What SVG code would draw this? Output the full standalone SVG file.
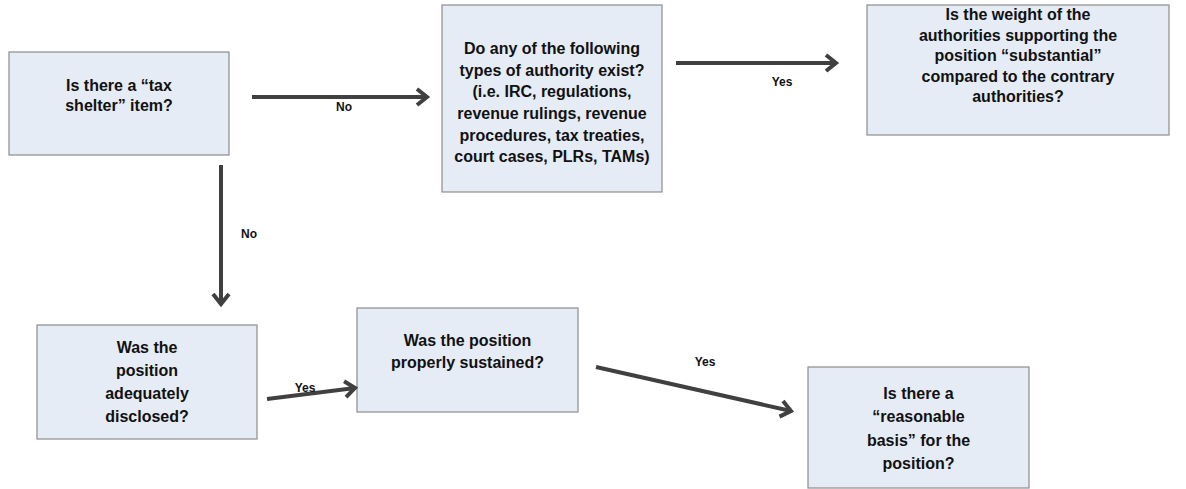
<svg xmlns="http://www.w3.org/2000/svg" width="1186" height="489" viewBox="0 0 1186 489">
  <style>
    .box { fill: #E6ECF6; stroke: #8C8C8C; stroke-width: 1.2; }
    .t { font-family: "Liberation Sans", Arial, sans-serif; font-weight: bold; font-size: 16px; fill: #111; text-anchor: middle; }
    .lbl { font-family: "Liberation Sans", Arial, sans-serif; font-weight: bold; font-size: 12px; fill: #111; text-anchor: middle; }
    .conn { stroke: #404040; stroke-width: 4; fill: none; marker-end: url(#arrow); }
  </style>
  <defs>
    <marker id="arrow" markerUnits="userSpaceOnUse" viewBox="-16 -12 20 24" refX="0" refY="0" markerWidth="20" markerHeight="24" orient="auto">
      <path d="M-10,-8 L0,0 L-10,8" fill="none" stroke="#404040" stroke-width="4" stroke-linejoin="miter"/>
    </marker>
  </defs>
  <rect width="1186" height="489" fill="#FFFFFF"/>

  <g id="n1">
    <rect class="box" x="9" y="52" width="220" height="103"/>
    <text class="t" x="119" y="91">Is there a “tax</text>
    <text class="t" x="119" y="111">shelter” item?</text>
  </g>

  <g id="n2">
    <rect class="box" x="442" y="5" width="220" height="187"/>
    <text class="t" x="552" y="54">Do any of the following</text>
    <text class="t" x="552" y="76">types of authority exist?</text>
    <text class="t" x="552" y="97">(i.e. IRC, regulations,</text>
    <text class="t" x="552" y="119">revenue rulings, revenue</text>
    <text class="t" x="552" y="141">procedures, tax treaties,</text>
    <text class="t" x="552" y="162">court cases, PLRs, TAMs)</text>
  </g>

  <g id="n3">
    <rect class="box" x="867" y="5" width="302" height="130"/>
    <text class="t" x="1018" y="20">Is the weight of the</text>
    <text class="t" x="1018" y="40.5">authorities supporting the</text>
    <text class="t" x="1018" y="61">position “substantial”</text>
    <text class="t" x="1018" y="81.5">compared to the contrary</text>
    <text class="t" x="1018" y="102">authorities?</text>
  </g>

  <g id="n4">
    <rect class="box" x="37" y="325" width="220" height="114"/>
    <text class="t" x="147" y="353">Was the</text>
    <text class="t" x="147" y="376">position</text>
    <text class="t" x="147" y="399">adequately</text>
    <text class="t" x="147" y="422">disclosed?</text>
  </g>

  <g id="n5">
    <rect class="box" x="357" y="308" width="221" height="104"/>
    <text class="t" x="467.5" y="346">Was the position</text>
    <text class="t" x="467.5" y="368">properly sustained?</text>
  </g>

  <g id="n6">
    <rect class="box" x="808" y="367" width="221" height="121"/>
    <text class="t" x="918.5" y="399">Is there a</text>
    <text class="t" x="918.5" y="422">“reasonable</text>
    <text class="t" x="918.5" y="446">basis” for the</text>
    <text class="t" x="918.5" y="469">position?</text>
  </g>

  <g id="connectors">
    <line class="conn" x1="252" y1="97" x2="427" y2="97"/>
    <text class="lbl" x="344" y="111">No</text>
    <line class="conn" x1="221" y1="165" x2="221" y2="304"/>
    <text class="lbl" x="249" y="238">No</text>
    <line class="conn" x1="676" y1="63" x2="836" y2="63"/>
    <text class="lbl" x="782" y="86">Yes</text>
    <line class="conn" x1="267" y1="399" x2="355" y2="388"/>
    <text class="lbl" x="305" y="392">Yes</text>
    <line class="conn" x1="596" y1="367" x2="791" y2="411"/>
    <text class="lbl" x="705" y="366">Yes</text>
  </g>
</svg>
